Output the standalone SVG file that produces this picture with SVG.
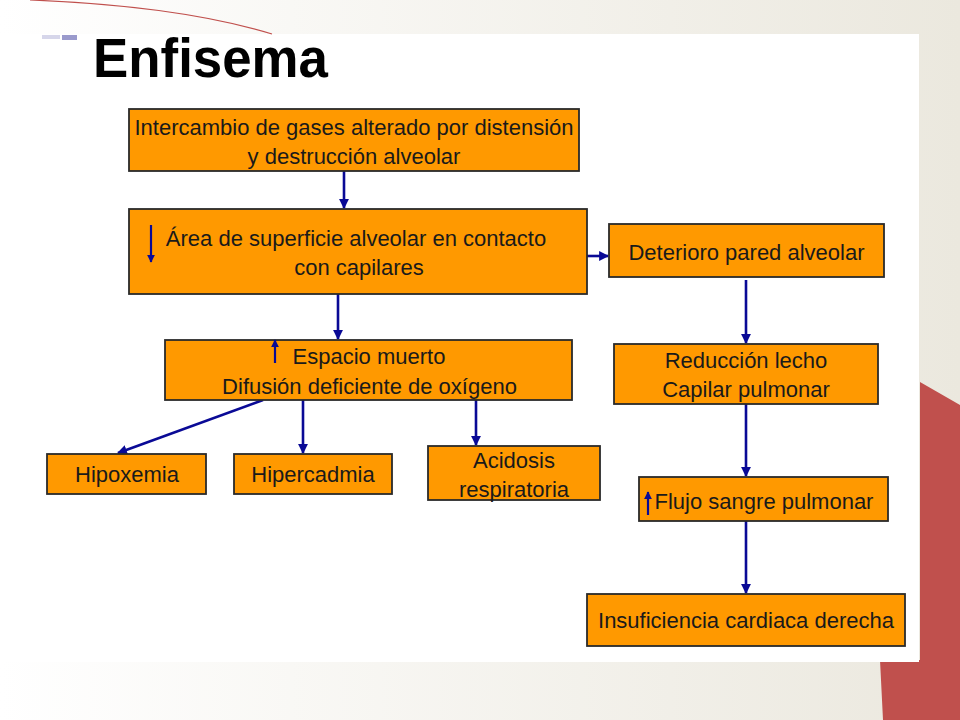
<svg xmlns="http://www.w3.org/2000/svg" width="960" height="720" viewBox="0 0 960 720">
<style>
.box{fill:#ff9900;stroke:#2a2a2a;stroke-width:1.8}
.t{font-family:"Liberation Sans",Arial,sans-serif;font-size:22px;fill:#1a1a1a;text-anchor:middle}
.c{stroke:#0a0a96;stroke-width:2.6;fill:none;marker-end:url(#ah)}
.s{stroke:#0a0a96;stroke-width:2.2;fill:none;marker-end:url(#ah2)}
</style>
<defs>
<linearGradient id="bg" x1="0" y1="0" x2="1" y2="0">
<stop offset="0" stop-color="#ffffff"/>
<stop offset="1" stop-color="#ebe8de"/>
</linearGradient>
<marker id="ah" viewBox="0 0 10 10" refX="9" refY="5" markerWidth="4" markerHeight="3.8" orient="auto" markerUnits="strokeWidth">
<path d="M0,0 L10,5 L0,10 z" fill="#0a0a96"/>
</marker>
<marker id="ah2" viewBox="0 0 10 10" refX="9" refY="5" markerWidth="3.6" markerHeight="3.6" orient="auto" markerUnits="strokeWidth">
<path d="M0,0 L10,5 L0,10 z" fill="#0a0a96"/>
</marker>
</defs>
<rect x="0" y="0" width="960" height="720" fill="url(#bg)"/>
<polygon points="920,382 960,405 960,720 883,720 880,660 920,660" fill="#c0504d"/>
<rect x="0" y="34" width="919" height="628" fill="#ffffff"/>
<path d="M30,0 Q180,6 272,34" stroke="#c0504d" stroke-width="1.2" fill="none"/>
<rect x="42" y="35" width="18" height="4" fill="#d6d6ea"/>
<rect x="62" y="35" width="15" height="5" fill="#9a9acc"/>
<text x="93" y="77" font-family="'Liberation Sans',Arial,sans-serif" font-weight="bold" font-size="56" textLength="235" lengthAdjust="spacingAndGlyphs" fill="#000">Enfisema</text>

<g id="connectors">
<line class="c" x1="344" y1="171" x2="344" y2="208"/>
<line class="c" x1="338" y1="294" x2="338" y2="339"/>
<line class="c" x1="587" y1="256" x2="608" y2="256"/>
<line class="c" x1="746" y1="280" x2="746" y2="343"/>
<line class="c" x1="746" y1="404" x2="746" y2="476"/>
<line class="c" x1="746" y1="521" x2="746" y2="593"/>
<line class="c" x1="263" y1="400" x2="118" y2="453"/>
<line class="c" x1="303" y1="400" x2="303" y2="453"/>
<line class="c" x1="476" y1="400" x2="476" y2="445"/>
</g>

<g id="n1">
<rect class="box" x="129" y="109" width="450" height="62"/>
<text class="t" x="354" y="135">Intercambio de gases alterado por distensión</text>
<text class="t" x="354" y="164">y destrucción alveolar</text>
</g>
<g id="n2">
<rect class="box" x="129" y="209" width="458" height="85"/>
<line class="s" x1="151" y1="225" x2="151" y2="262"/>
<text class="t" x="356" y="246">Área de superficie alveolar en contacto</text>
<text class="t" x="359" y="275">con capilares</text>
</g>
<g id="n3">
<rect class="box" x="609" y="224" width="275" height="53"/>
<text class="t" x="746.5" y="260">Deterioro pared alveolar</text>
</g>
<g id="n4">
<rect class="box" x="165" y="340" width="407" height="60"/>
<line class="s" x1="275" y1="363" x2="275" y2="340"/>
<text class="t" x="369" y="364">Espacio muerto</text>
<text class="t" x="369.5" y="394">Difusión deficiente de oxígeno</text>
</g>
<g id="n5">
<rect class="box" x="614" y="344" width="264" height="60"/>
<text class="t" x="746" y="368">Reducción lecho</text>
<text class="t" x="746" y="397">Capilar pulmonar</text>
</g>
<g id="n6">
<rect class="box" x="47" y="454" width="159" height="40"/>
<text class="t" x="127" y="482">Hipoxemia</text>
</g>
<g id="n7">
<rect class="box" x="234" y="454" width="158" height="40"/>
<text class="t" x="313" y="482">Hipercadmia</text>
</g>
<g id="n8">
<rect class="box" x="428" y="446" width="172" height="54"/>
<text class="t" x="514" y="468">Acidosis</text>
<text class="t" x="514" y="497">respiratoria</text>
</g>
<g id="n9">
<rect class="box" x="639" y="477" width="249" height="44"/>
<line class="s" x1="648" y1="515" x2="648" y2="492"/>
<text class="t" x="764" y="509">Flujo sangre pulmonar</text>
</g>
<g id="n10">
<rect class="box" x="587" y="594" width="318" height="52"/>
<text class="t" x="746" y="628">Insuficiencia cardiaca derecha</text>
</g>
</svg>
